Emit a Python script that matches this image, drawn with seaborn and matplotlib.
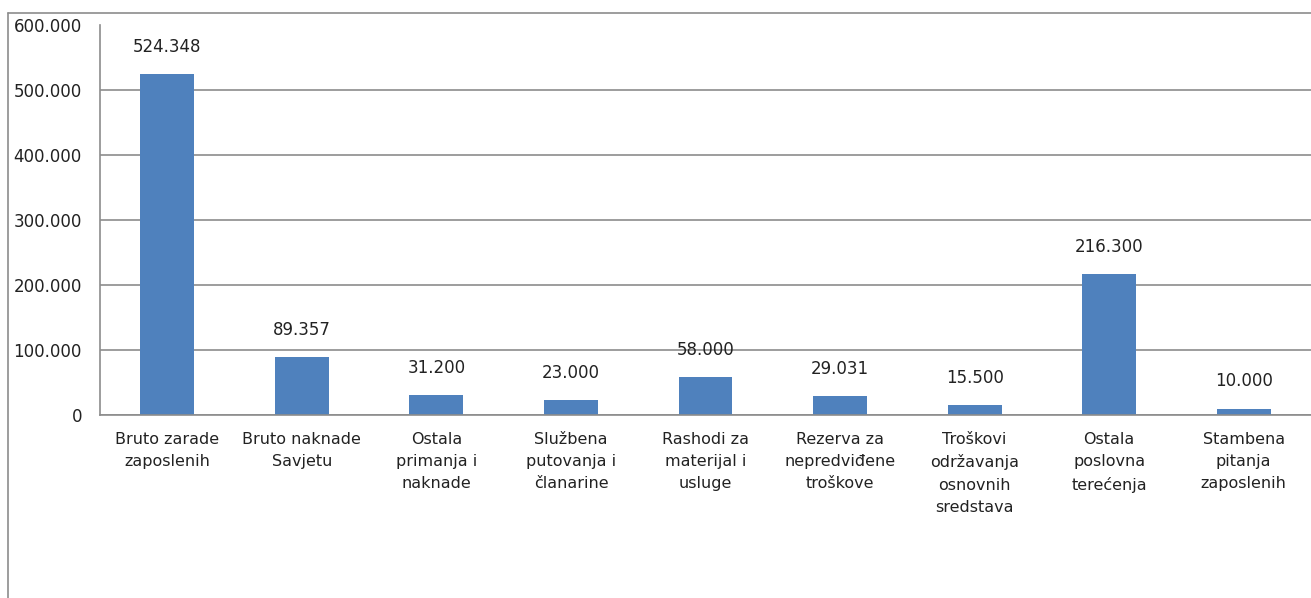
import pandas as pd
import matplotlib.pyplot as plt
import seaborn as sns

categories = ['Bruto zarade\nzaposlenih', 'Bruto naknade\nSavjetu', 'Ostala\nprimanja i\nnaknade',
              'Službena\nputovanja i\nčlanarine', 'Rashodi za\nmaterijal i\nusluge',
              'Rezerva za\nnepredviđene\ntroškove', 'Troškovi\nodržavanja\nosnovnih\nsredstava',
              'Ostala\nposlovna\nterećenja', 'Stambena\npitanja\nzaposlenih']
values = [524348, 89357, 31200, 23000, 58000, 29031, 15500, 216300, 10000]
yticks = [0, 100000, 200000, 300000, 400000, 500000, 600000]

def fmt(v):
    return f'{v:,}'.replace(',', '.')

df = pd.DataFrame({'cat': categories, 'val': values})

sns.set_style('white')
plt.rcParams['font.family'] = ['DejaVu Sans']

fig = plt.figure(figsize=(13.11, 5.98), dpi=100)
ax = fig.add_axes([0.0763, 0.306, 0.9237, 0.652])

sns.barplot(data=df, x='cat', y='val', color='#4F81BD', saturation=1, width=0.4,
            linewidth=0, ax=ax)

ax.set_ylim(0, 600000)
ax.set_xlim(-0.5, len(categories) - 0.5)
ax.set_yticks(yticks)
ax.set_yticklabels([fmt(v) for v in yticks], fontsize=12, color='#222222')
ax.yaxis.grid(True, color='#8c8c8c', linewidth=1.2)
ax.get_ygridlines()[-1].set_visible(False)
ax.set_axisbelow(True)
ax.set_xlabel('')
ax.set_ylabel('')

for s in ['top', 'right']:
    ax.spines[s].set_visible(False)
for s in ['left', 'bottom']:
    ax.spines[s].set_color('#8c8c8c')
    ax.spines[s].set_linewidth(1.2)

ax.set_xticks([i - 0.5 for i in range(len(categories) + 1)], minor=True)
ax.set_xticks(range(len(categories)))
ax.set_xticklabels(categories, fontsize=11.5, linespacing=1.6, color='#222222')
ax.tick_params(axis='x', which='major', length=0, pad=12)
ax.tick_params(axis='x', which='minor', length=5, color='#8c8c8c', direction='out')
ax.tick_params(axis='y', length=5, color='#8c8c8c', direction='out', pad=8)

for i, v in enumerate(values):
    ax.annotate(fmt(v), (i, v), xytext=(0, 13), textcoords='offset points',
                ha='center', va='bottom', fontsize=12, color='#222222')

# outer frame lines (top and left)
fig.add_artist(plt.Line2D([0.006, 1.0], [0.978, 0.978], color='#8c8c8c', linewidth=1.2))
fig.add_artist(plt.Line2D([0.006, 0.006], [0.0, 0.978], color='#8c8c8c', linewidth=1.2))

fig.savefig('out.png', dpi=100)
